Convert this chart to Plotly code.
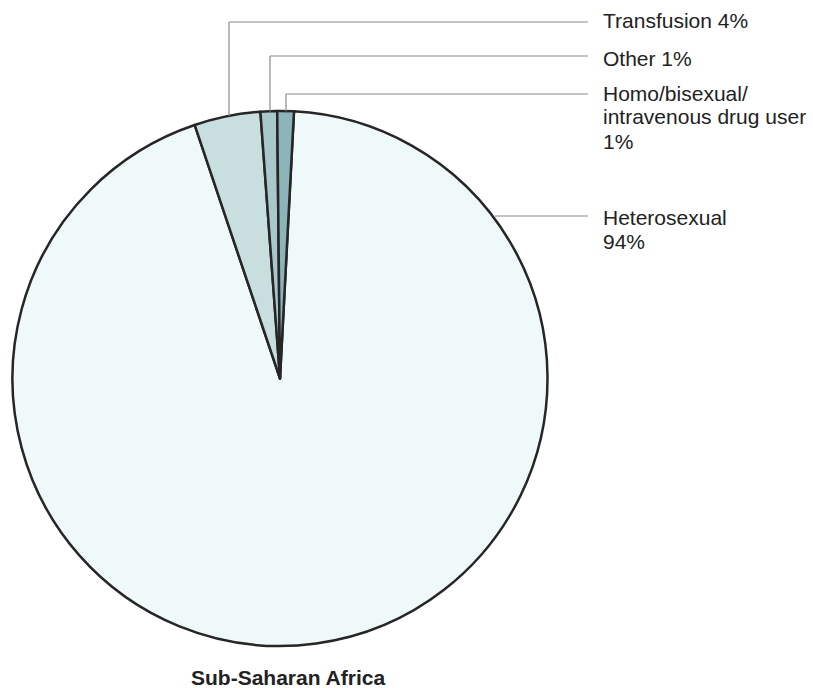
import plotly.graph_objects as go

# Exposure categories for HIV infection, Sub-Saharan Africa (percent)
categories = ["Heterosexual", "Transfusion", "Other", "Homo/bisexual/intravenous drug user"]
shares = [94, 4, 1, 1]
label_texts = [
    "Heterosexual<br>94%",
    "Transfusion 4%",
    "Other 1%",
    "Homo/bisexual/<br>intravenous drug user<br>1%",
]
title_text = "Sub-Saharan Africa"

W, H = 813, 688
slice_colors = ["#f0f9f9", "#c8dedf", "#a9c8cb", "#8cb4b9"]

# pie geometry in pixels
cx, cy, r = 280, 378.5, 267.5


def px(x):
    return x / W


def py(y):
    return 1 - y / H


fig = go.Figure()
fig.add_trace(go.Pie(
    labels=categories,
    values=shares,
    sort=False,
    direction="clockwise",
    rotation=3,
    textinfo="none",
    hoverinfo="label+percent",
    marker=dict(colors=slice_colors, line=dict(color="#262626", width=2.5)),
    domain=dict(x=[px(cx - r), px(cx + r)], y=[py(cy + r), py(cy - r)]),
    showlegend=False,
))

line_style = dict(color="#8a8a8a", width=1.2)
# leader lines: (vertical x, start y on rim, horizontal y)
leaders = [
    (229, 116, 22),   # Transfusion
    (270, 111.5, 56),  # Other
    (286, 111.2, 94),  # Homo/bisexual
]
shapes = []
for x0, y_rim, y_h in leaders:
    shapes.append(dict(type="line", xref="paper", yref="paper",
                       x0=px(x0), y0=py(y_rim), x1=px(x0), y1=py(y_h), line=line_style))
    shapes.append(dict(type="line", xref="paper", yref="paper",
                       x0=px(x0), y0=py(y_h), x1=px(588), y1=py(y_h), line=line_style))
# Heterosexual leader from rim
shapes.append(dict(type="line", xref="paper", yref="paper",
                   x0=px(495), y0=py(216), x1=px(588), y1=py(216), line=line_style))

font = dict(family="Liberation Sans, Arial, sans-serif", size=21, color="#222222")
line_gap = 24
# (text index, centre y of first line)
label_pos = [(1, 20), (2, 58), (3, 93), (0, 217)]
annotations = []
for idx, y0 in label_pos:
    for k, part in enumerate(label_texts[idx].split("<br>")):
        annotations.append(dict(
            text=part, xref="paper", yref="paper",
            x=px(601), y=py(y0 + k * line_gap), xanchor="left", yanchor="middle",
            showarrow=False, align="left", font=font,
        ))
annotations.append(dict(
    text="<b>" + title_text + "</b>", xref="paper", yref="paper",
    x=px(288), y=py(677), xanchor="center", yanchor="middle",
    showarrow=False, font=dict(family="Liberation Sans, Arial, sans-serif", size=21, color="#222222"),
))

fig.update_layout(
    width=W, height=H,
    margin=dict(l=0, r=0, t=0, b=0),
    paper_bgcolor="white",
    plot_bgcolor="white",
    shapes=shapes,
    annotations=annotations,
)

fig.write_html("out.html")
